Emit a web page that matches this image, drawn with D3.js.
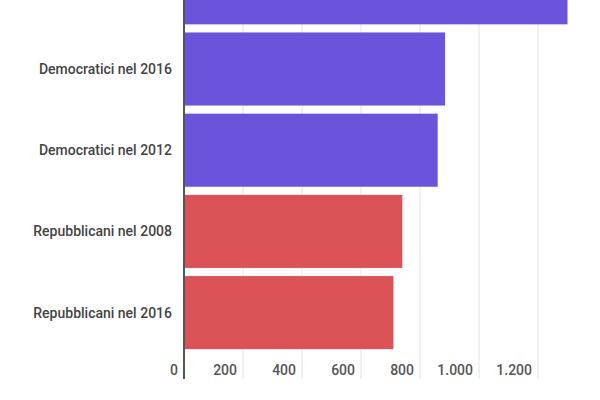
<!DOCTYPE html>
<html>
<head>
<meta charset="utf-8">
<script src="https://cdn.jsdelivr.net/npm/d3@7"></script>
<style>
  body { margin: 0; background: #fff; }
  svg { display: block; font-family: Roboto, "Noto Sans", sans-serif; }
  .cat { fill: #444; font-size: 14px; font-weight: 500; }
  .tick-label { fill: #555; font-size: 14px; font-weight: 500; }
</style>
</head>
<body>
<div id="container"></div>
<script>
// dati (la prima barra e' tagliata in alto)
var categories = ["Democratici nel 2008", "Democratici nel 2016", "Democratici nel 2012", "Repubblicani nel 2008", "Repubblicani nel 2016"];
var values = [1300, 885, 860, 740, 710];
var partyColors = ["#6b53db", "#6b53db", "#6b53db", "#db5357", "#db5357"];
var tickValues = [0, 200, 400, 600, 800, 1000, 1200];

var width = 600, height = 400;
var axisBottom = 379;

var svg = d3.select("#container").append("svg")
  .attr("width", width)
  .attr("height", height);

// formato italiano: punto come separatore delle migliaia
var it = d3.formatLocale({decimal: ",", thousands: ".", grouping: [3], currency: ["€", ""]});
var fmt = it.format(",d");

var xScale = d3.scaleLinear()
  .domain([0, 1400])
  .range([184, 597]);

var yScale = d3.scaleBand()
  .domain(categories)
  .range([-52.8, 353.2])
  .paddingInner(0.1)
  .paddingOuter(0.05);

// griglia verticale
svg.append("g")
  .selectAll("line")
  .data(tickValues.filter(function(d) { return d > 0; }))
  .enter()
  .append("line")
  .attr("x1", function(d) { return xScale(d); })
  .attr("x2", function(d) { return xScale(d); })
  .attr("y1", 0)
  .attr("y2", axisBottom)
  .attr("stroke", "#e2e2e2")
  .attr("stroke-width", 1);

// barre
svg.append("g")
  .selectAll("rect")
  .data(values)
  .enter()
  .append("rect")
  .attr("x", xScale(0))
  .attr("y", function(d, i) { return yScale(categories[i]); })
  .attr("width", function(d) { return xScale(d) - xScale(0); })
  .attr("height", yScale.bandwidth())
  .attr("fill", function(d, i) { return partyColors[i]; });

// asse verticale
svg.append("line")
  .attr("x1", xScale(0))
  .attr("x2", xScale(0))
  .attr("y1", 0)
  .attr("y2", axisBottom)
  .attr("stroke", "#555")
  .attr("stroke-width", 2);

// etichette categorie (solo quelle dentro la finestra)
svg.append("g")
  .selectAll("text")
  .data(categories.filter(function(d) { return yScale(d) + yScale.bandwidth() / 2 > 0; }))
  .enter()
  .append("text")
  .attr("class", "cat")
  .attr("x", xScale(0) - 12)
  .attr("y", function(d) { return yScale(d) + yScale.bandwidth() / 2; })
  .attr("dy", "0.35em")
  .attr("text-anchor", "end")
  .text(function(d) { return d; });

// etichette asse x (a sinistra della linea)
svg.append("g")
  .selectAll("text")
  .data(tickValues)
  .enter()
  .append("text")
  .attr("class", "tick-label")
  .attr("x", function(d) { return xScale(d) - 6; })
  .attr("y", 375)
  .attr("text-anchor", "end")
  .text(function(d) { return fmt(d); });
</script>
</body>
</html>
